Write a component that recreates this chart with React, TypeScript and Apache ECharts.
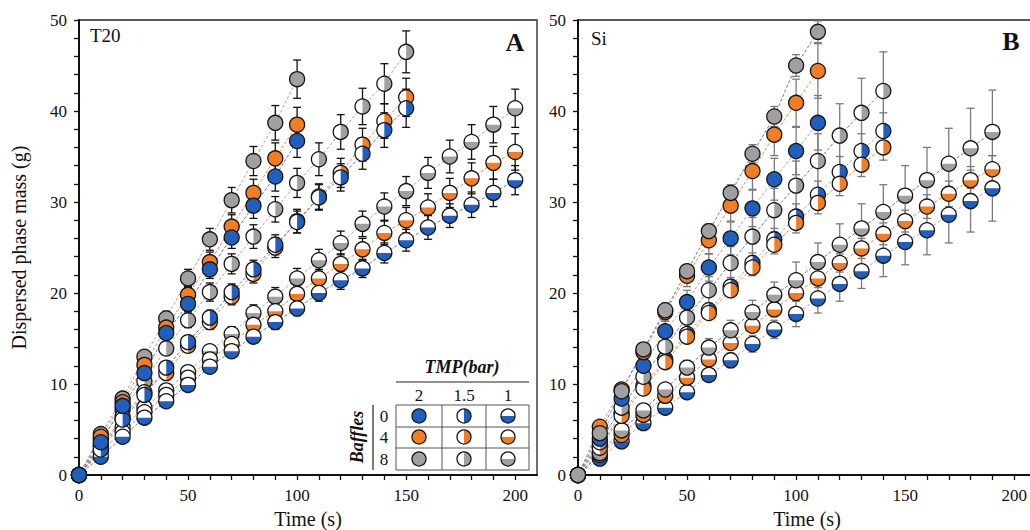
import React, { useEffect, useRef } from 'react';
import * as echarts from 'echarts';

// ---------- data ----------
const xLabelValues = [0, 50, 100, 150, 200];
const xTickValues = [0, 10, 20, 30, 40, 50, 60, 70, 80, 90, 100, 110, 120, 130, 140, 150, 160, 170, 180, 190, 200];
const yTickValues = [0, 2, 4, 6, 8, 10, 12, 14, 16, 18, 20, 22, 24, 26, 28, 30, 32, 34, 36, 38, 40, 42, 44, 46, 48, 50];

// Panel A (T20)
const tA2 = [0, 10, 20, 30, 40, 50, 60, 70, 80, 90, 100];
const tA15 = [0, 10, 20, 30, 40, 50, 60, 70, 80, 90, 100, 110, 120, 130, 140, 150];
const tA1 = [0, 10, 20, 30, 40, 50, 60, 70, 80, 90, 100, 110, 120, 130, 140, 150, 160, 170, 180, 190, 200];

const blueA2 = [0, 3.6, 7.6, 11.2, 15.6, 18.8, 22.6, 26.1, 29.6, 32.8, 36.7];
const orangeA2 = [0, 4.2, 8.0, 12.1, 16.2, 19.8, 23.4, 27.3, 31.0, 34.8, 38.5];
const grayA2 = [0, 4.5, 8.4, 13.0, 17.2, 21.6, 25.9, 30.2, 34.5, 38.7, 43.5];
const blueA2Err = [0, 0.4, 0.5, 0.6, 0.7, 0.8, 1.0, 1.2, 1.4, 1.6, 1.8];
const orangeA2Err = [0, 0.4, 0.5, 0.6, 0.8, 0.9, 1.1, 1.3, 1.5, 1.7, 1.9];
const grayA2Err = [0, 0.5, 0.6, 0.7, 0.8, 1.0, 1.2, 1.4, 1.6, 1.9, 2.1];

const blueA15 = [0, 2.8, 6.1, 8.8, 11.8, 14.6, 17.3, 20.1, 22.6, 25.3, 27.8, 30.5, 32.7, 35.3, 37.9, 40.3];
const orangeA15 = [0, 3.1, 6.4, 9.1, 11.2, 14.2, 16.8, 19.6, 22.1, 25.0, 27.9, 30.6, 33.2, 36.3, 38.9, 41.5];
const grayA15 = [0, 3.9, 7.2, 10.3, 13.9, 17.0, 20.1, 23.2, 26.2, 29.2, 32.1, 34.7, 37.7, 40.5, 43.0, 46.5];
const blueA15Err = [0, 0.3, 0.4, 0.5, 0.6, 0.7, 0.8, 0.9, 1.0, 1.1, 1.2, 1.4, 1.5, 1.7, 1.9, 2.1];
const orangeA15Err = [0, 0.3, 0.4, 0.5, 0.6, 0.7, 0.8, 0.9, 1.0, 1.1, 1.3, 1.4, 1.6, 1.8, 1.9, 2.1];
const grayA15Err = [0, 0.4, 0.5, 0.6, 0.7, 0.8, 1.0, 1.1, 1.3, 1.4, 1.6, 1.8, 1.9, 2.0, 2.2, 2.3];

const blueA1 = [0, 2.0, 4.2, 6.3, 8.1, 9.9, 11.9, 13.6, 15.2, 16.8, 18.3, 20.0, 21.4, 22.7, 24.4, 25.8, 27.2, 28.5, 29.7, 31.0, 32.4];
const orangeA1 = [0, 2.6, 4.7, 6.9, 8.8, 10.7, 12.7, 14.4, 16.5, 18.0, 19.9, 21.6, 23.2, 24.8, 26.6, 28.0, 29.4, 31.0, 32.6, 34.3, 35.5];
const grayA1 = [0, 3.3, 5.2, 7.4, 9.3, 11.3, 13.6, 15.5, 17.8, 19.6, 21.6, 23.6, 25.5, 27.6, 29.5, 31.2, 33.2, 35.0, 36.6, 38.5, 40.3];
const blueA1Err = [0, 0.2, 0.3, 0.4, 0.4, 0.5, 0.6, 0.6, 0.7, 0.8, 0.8, 0.9, 1.0, 1.0, 1.1, 1.2, 1.3, 1.3, 1.4, 1.5, 1.6];
const orangeA1Err = [0, 0.2, 0.3, 0.4, 0.5, 0.5, 0.6, 0.7, 0.8, 0.9, 0.9, 1.0, 1.1, 1.2, 1.3, 1.4, 1.5, 1.6, 1.7, 1.8, 2.0];
const grayA1Err = [0, 0.3, 0.3, 0.4, 0.5, 0.6, 0.7, 0.8, 0.9, 1.0, 1.1, 1.2, 1.3, 1.4, 1.5, 1.6, 1.7, 1.8, 1.9, 2.0, 2.1];

// Panel B (Si)
const tB2 = [0, 10, 20, 30, 40, 50, 60, 70, 80, 90, 100, 110];
const tB15 = [0, 10, 20, 30, 40, 50, 60, 70, 80, 90, 100, 110, 120, 130, 140];
const tB1 = [0, 10, 20, 30, 40, 50, 60, 70, 80, 90, 100, 110, 120, 130, 140, 150, 160, 170, 180, 190];

const blueB2 = [0, 4.0, 8.4, 12.0, 15.8, 19.0, 22.8, 26.0, 29.3, 32.5, 35.6, 38.7];
const orangeB2 = [0, 5.3, 9.4, 13.5, 17.9, 21.9, 25.8, 29.6, 33.4, 37.4, 40.9, 44.4];
const grayB2 = [0, 4.6, 9.2, 13.8, 18.1, 22.4, 26.8, 31.0, 35.3, 39.4, 45.0, 48.7];
const blueB2Err = [0, 0.5, 0.7, 0.9, 1.1, 1.3, 1.5, 1.8, 2.0, 2.3, 2.6, 3.0];
const orangeB2Err = [0, 0.4, 0.6, 0.8, 1.0, 1.2, 1.5, 1.7, 2.0, 2.3, 2.6, 3.0];
const grayB2Err = [0, 0.3, 0.4, 0.5, 0.6, 0.7, 0.8, 0.9, 1.0, 1.1, 1.2, 1.2];

const blueB15 = [0, 3.2, 6.8, 9.8, 12.7, 15.5, 18.1, 20.7, 23.3, 25.9, 28.4, 30.8, 33.3, 35.6, 37.8];
const orangeB15 = [0, 3.0, 6.5, 9.5, 12.4, 15.2, 17.8, 20.3, 22.8, 25.3, 27.7, 29.9, 32.0, 34.1, 36.0];
const grayB15 = [0, 3.6, 7.4, 10.8, 14.1, 17.3, 20.3, 23.3, 26.2, 29.1, 31.8, 34.5, 37.3, 39.8, 42.2];
const blueB15Err = [0, 0.3, 0.4, 0.5, 0.6, 0.7, 0.8, 1.0, 1.1, 1.2, 1.4, 1.5, 1.7, 1.9, 2.0];
const orangeB15Err = [0, 0.3, 0.4, 0.5, 0.6, 0.6, 0.7, 0.8, 0.9, 1.0, 1.1, 1.2, 1.3, 1.3, 1.4];
const grayB15Err = [0, 0.4, 0.6, 0.8, 1.0, 1.2, 1.5, 1.8, 2.1, 2.4, 2.7, 3.0, 3.5, 3.8, 4.3];

const blueB1 = [0, 1.8, 3.7, 5.7, 7.4, 9.1, 11.0, 12.6, 14.4, 16.0, 17.7, 19.4, 21.0, 22.4, 24.1, 25.6, 26.9, 28.6, 30.1, 31.5];
const orangeB1 = [0, 2.2, 4.4, 6.6, 8.7, 10.7, 12.7, 14.5, 16.4, 18.2, 20.0, 21.6, 23.3, 24.9, 26.5, 27.9, 29.5, 30.9, 32.4, 33.6];
const grayB1 = [0, 2.4, 4.9, 7.1, 9.4, 11.8, 14.0, 15.9, 17.9, 19.8, 21.4, 23.4, 25.3, 27.1, 28.9, 30.7, 32.4, 34.2, 35.9, 37.7];
const blueB1Err = [0, 0.2, 0.3, 0.4, 0.5, 0.6, 0.7, 0.8, 0.9, 1.0, 1.4, 1.6, 1.9, 1.9, 2.3, 2.5, 2.7, 3.1, 3.4, 3.6];
const orangeB1Err = [0, 0.2, 0.3, 0.3, 0.4, 0.5, 0.5, 0.6, 0.7, 0.8, 0.9, 1.0, 1.0, 1.1, 1.2, 1.2, 1.3, 1.4, 1.5, 1.5];
const grayB1Err = [0, 0.3, 0.4, 0.5, 0.6, 0.8, 1.0, 1.1, 1.3, 1.4, 2.0, 2.1, 2.3, 2.7, 3.0, 3.3, 3.6, 3.9, 4.4, 4.6];

const tmpLabels = ['2', '1.5', '1'];
const baffleLabels = ['0', '4', '8'];

// ---------- styles ----------
const BLUE = '#1f5fbf';
const ORANGE = '#f47d20';
const GRAY = '#a0a0a0';
const LBLUE = '#4a7fd2';
const LORANGE = '#f0883a';
const LGRAY = '#a8a8a8';
const FONT = '"Liberation Serif", "Times New Roman", serif';
const R = 7.5;

type Kind = 'full' | 'vhalf' | 'hhalf';

function markerShapes(cx: number, cy: number, fill: string, kind: Kind, r: number = R): any[] {
  const ch: any[] = [
    { type: 'circle', shape: { cx, cy, r }, style: { fill: kind === 'full' ? fill : '#ffffff' } },
  ];
  if (kind === 'vhalf') {
    ch.push({ type: 'sector', shape: { cx, cy, r0: 0, r, startAngle: -Math.PI / 2, endAngle: Math.PI / 2, clockwise: true }, style: { fill } });
  } else if (kind === 'hhalf') {
    ch.push({ type: 'sector', shape: { cx, cy, r0: 0, r, startAngle: 0, endAngle: Math.PI, clockwise: true }, style: { fill } });
  }
  ch.push({ type: 'circle', shape: { cx, cy, r }, style: { fill: 'none', stroke: '#151515', lineWidth: 1.3 } });
  return ch;
}

function buildSeries(
  g: number,
  times: number[],
  values: number[],
  errs: number[],
  fill: string,
  kind: Kind,
  lineColor: string,
  errColor: string
) {
  const data = times.map((t, i) => [t, values[i], errs[i]]);
  const line = {
    type: 'line',
    xAxisIndex: g,
    yAxisIndex: g,
    data: times.map((t, i) => [t, values[i]]),
    symbol: 'none',
    showSymbol: false,
    silent: true,
    z: 1,
    lineStyle: { color: lineColor, width: 1, type: [3, 2] },
  };
  const err = {
    type: 'custom',
    xAxisIndex: g,
    yAxisIndex: g,
    data,
    z: 2,
    clip: false,
    silent: true,
    renderItem: (_p: any, api: any) => {
      const x = api.value(0);
      const y = api.value(1);
      const e = api.value(2);
      if (!e) return { type: 'group', children: [] };
      const top = api.coord([x, y + e]);
      const bot = api.coord([x, y - e]);
      const w = 4;
      const st = { stroke: errColor, lineWidth: 1.3 };
      return {
        type: 'group',
        children: [
          { type: 'line', shape: { x1: top[0], y1: top[1], x2: bot[0], y2: bot[1] }, style: st },
          { type: 'line', shape: { x1: top[0] - w, y1: top[1], x2: top[0] + w, y2: top[1] }, style: st },
          { type: 'line', shape: { x1: bot[0] - w, y1: bot[1], x2: bot[0] + w, y2: bot[1] }, style: st },
        ],
      };
    },
  };
  const mark = {
    type: 'custom',
    xAxisIndex: g,
    yAxisIndex: g,
    data,
    z: 3,
    clip: false,
    silent: true,
    renderItem: (_p: any, api: any) => {
      const p = api.coord([api.value(0), api.value(1)]);
      return { type: 'group', children: markerShapes(p[0], p[1], fill, kind) };
    },
  };
  return { line, err, mark };
}

function makeAxisX(g: number) {
  return {
    type: 'value',
    gridIndex: g,
    min: 0,
    max: 210,
    name: 'Time (s)',
    nameLocation: 'middle',
    nameGap: 32,
    nameTextStyle: { fontFamily: FONT, fontSize: 20, color: '#111' },
    axisLine: { show: true, lineStyle: { color: '#111', width: 2 } },
    axisTick: { show: true, inside: false, length: 5, customValues: xTickValues, lineStyle: { color: '#111', width: 1.3 } },
    axisLabel: { customValues: xLabelValues, margin: 12, fontFamily: FONT, fontSize: 17, color: '#111' },
    splitLine: { show: false },
  };
}

function makeAxisY(g: number, withName: boolean) {
  return {
    type: 'value',
    gridIndex: g,
    min: 0,
    max: 50,
    interval: 10,
    name: withName ? 'Dispersed phase mass (g)' : '',
    nameLocation: 'middle',
    nameGap: 50,
    nameTextStyle: { fontFamily: FONT, fontSize: 20, color: '#111' },
    axisLine: { show: true, lineStyle: { color: '#111', width: 2 } },
    axisTick: { show: true, inside: false, length: 5, customValues: yTickValues, lineStyle: { color: '#111', width: 1.3 } },
    axisLabel: { margin: 12, fontFamily: FONT, fontSize: 17, color: '#111' },
    splitLine: { show: false },
  };
}

export default function App() {
  const ref = useRef<HTMLDivElement>(null);
  useEffect(() => {
    if (!ref.current) return;
    const chart = echarts.init(ref.current, undefined, { renderer: 'svg' });

    // Panel A: lines colored as markers; draw order gray, orange, blue
    const specsA = [
      buildSeries(0, tA1, grayA1, grayA1Err, GRAY, 'hhalf', LGRAY, '#111'),
      buildSeries(0, tA1, orangeA1, orangeA1Err, ORANGE, 'hhalf', LORANGE, '#111'),
      buildSeries(0, tA1, blueA1, blueA1Err, BLUE, 'hhalf', LBLUE, '#111'),
      buildSeries(0, tA15, grayA15, grayA15Err, GRAY, 'vhalf', LGRAY, '#111'),
      buildSeries(0, tA15, orangeA15, orangeA15Err, ORANGE, 'vhalf', LORANGE, '#111'),
      buildSeries(0, tA15, blueA15, blueA15Err, BLUE, 'vhalf', LBLUE, '#111'),
      buildSeries(0, tA2, grayA2, grayA2Err, GRAY, 'full', LGRAY, '#111'),
      buildSeries(0, tA2, orangeA2, orangeA2Err, ORANGE, 'full', LORANGE, '#111'),
      buildSeries(0, tA2, blueA2, blueA2Err, BLUE, 'full', LBLUE, '#111'),
    ];
    // Panel B: gray markers with blue lines, blue markers with gray lines
    const EB = '#7a7a7a';
    const specsB = [
      buildSeries(1, tB1, blueB1, blueB1Err, BLUE, 'hhalf', LGRAY, EB),
      buildSeries(1, tB1, orangeB1, orangeB1Err, ORANGE, 'hhalf', LORANGE, EB),
      buildSeries(1, tB1, grayB1, grayB1Err, GRAY, 'hhalf', LBLUE, EB),
      buildSeries(1, tB15, blueB15, blueB15Err, BLUE, 'vhalf', LGRAY, EB),
      buildSeries(1, tB15, orangeB15, orangeB15Err, ORANGE, 'vhalf', LORANGE, EB),
      buildSeries(1, tB15, grayB15, grayB15Err, GRAY, 'vhalf', LBLUE, EB),
      buildSeries(1, tB2, blueB2, blueB2Err, BLUE, 'full', LGRAY, EB),
      buildSeries(1, tB2, orangeB2, orangeB2Err, ORANGE, 'full', LORANGE, EB),
      buildSeries(1, tB2, grayB2, grayB2Err, GRAY, 'full', LBLUE, EB),
    ];
    const all = [...specsA, ...specsB];
    const series: any[] = [
      ...all.map((s) => s.line),
      ...all.map((s) => s.err),
      ...all.map((s) => s.mark),
    ];

    // legend table (panel A, bottom right)
    const colX = [419, 464, 508];
    const rowY = [416, 437, 459];
    const fills = [BLUE, ORANGE, GRAY];
    const kinds: Kind[] = ['full', 'vhalf', 'hhalf'];
    const legendChildren: any[] = [];
    legendChildren.push({
      type: 'text', x: 462, y: 367,
      style: { text: 'TMP(bar)', font: `italic bold 18px ${FONT}`, fill: '#111', align: 'center', verticalAlign: 'middle' },
    });
    legendChildren.push({ type: 'line', shape: { x1: 396, y1: 382, x2: 529, y2: 382 }, style: { stroke: '#222', lineWidth: 1.2 } });
    tmpLabels.forEach((lab, i) => {
      legendChildren.push({
        type: 'text', x: colX[i], y: 395,
        style: { text: lab, font: `17px ${FONT}`, fill: '#111', align: 'center', verticalAlign: 'middle' },
      });
    });
    legendChildren.push({ type: 'rect', shape: { x: 396, y: 405, width: 133, height: 65 }, style: { fill: 'none', stroke: '#555', lineWidth: 1 } });
    legendChildren.push({ type: 'line', shape: { x1: 396, y1: 427, x2: 529, y2: 427 }, style: { stroke: '#555', lineWidth: 1 } });
    legendChildren.push({ type: 'line', shape: { x1: 396, y1: 448, x2: 529, y2: 448 }, style: { stroke: '#555', lineWidth: 1 } });
    legendChildren.push({ type: 'line', shape: { x1: 442, y1: 405, x2: 442, y2: 470 }, style: { stroke: '#555', lineWidth: 1 } });
    legendChildren.push({ type: 'line', shape: { x1: 486, y1: 405, x2: 486, y2: 470 }, style: { stroke: '#555', lineWidth: 1 } });
    legendChildren.push({ type: 'line', shape: { x1: 373, y1: 405, x2: 373, y2: 470 }, style: { stroke: '#222', lineWidth: 1.2 } });
    baffleLabels.forEach((lab, j) => {
      legendChildren.push({
        type: 'text', x: 384, y: rowY[j],
        style: { text: lab, font: `17px ${FONT}`, fill: '#111', align: 'center', verticalAlign: 'middle' },
      });
    });
    legendChildren.push({
      type: 'text', x: 357, y: 437, rotation: Math.PI / 2,
      style: { text: 'Baffles', font: `italic bold 18px ${FONT}`, fill: '#111', align: 'center', verticalAlign: 'middle' },
    });
    fills.forEach((f, j) => {
      kinds.forEach((k, i) => {
        legendChildren.push({ type: 'group', children: markerShapes(colX[i], rowY[j], f, k, 7) });
      });
    });

    const option: any = {
      animation: false,
      backgroundColor: '#ffffff',
      grid: [
        { left: 79, top: 20, width: 458, height: 455, show: true, borderColor: '#222', borderWidth: 1.3, backgroundColor: 'transparent', outerBoundsMode: 'none', containLabel: false },
        { left: 578, top: 20, width: 458, height: 455, show: true, borderColor: '#222', borderWidth: 1.3, backgroundColor: 'transparent', outerBoundsMode: 'none', containLabel: false },
      ],
      xAxis: [makeAxisX(0), makeAxisX(1)],
      yAxis: [makeAxisY(0, true), makeAxisY(1, false)],
      series,
      graphic: [
        { type: 'text', x: 90, y: 35, z: 10, style: { text: 'T20', font: `19px ${FONT}`, fill: '#111', verticalAlign: 'middle' } },
        { type: 'text', x: 591, y: 38, z: 10, style: { text: 'Si', font: `19px ${FONT}`, fill: '#111', verticalAlign: 'middle' } },
        { type: 'text', x: 515, y: 42, z: 10, style: { text: 'A', font: `bold 26px ${FONT}`, fill: '#111', align: 'center', verticalAlign: 'middle' } },
        { type: 'text', x: 1011, y: 41, z: 10, style: { text: 'B', font: `bold 26px ${FONT}`, fill: '#111', align: 'center', verticalAlign: 'middle' } },
        { type: 'group', z: 10, children: legendChildren },
      ],
    };
    chart.setOption(option);
    return () => chart.dispose();
  }, []);

  return (
    <div style={{ position: 'fixed', left: 0, top: 0, width: 1030, height: 530, overflow: 'hidden', background: '#fff' }}>
      <div ref={ref} style={{ width: 1040, height: 530 }} />
    </div>
  );
}
